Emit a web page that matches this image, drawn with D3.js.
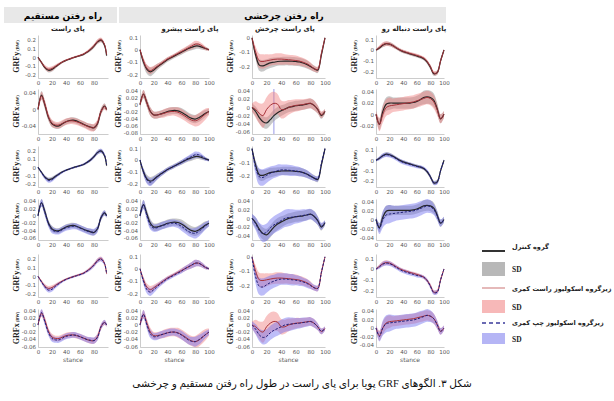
<!DOCTYPE html>
<html>
<head>
<meta charset="utf-8">
<script src="https://cdnjs.cloudflare.com/ajax/libs/d3/7.8.5/d3.min.js"></script>
<style>
body{margin:0;background:#fff;}
svg{display:block;}
.tick text{font-family:"DejaVu Sans",sans-serif;font-size:5.5px;fill:#555;}
.axis path{stroke:#aaa;stroke-width:0.6;}
.fa{font-family:"DejaVu Sans",sans-serif;}
</style>
</head>
<body>
<svg id="fig" width="614" height="401"></svg>
<script>
// stance (% of stance phase) - straight walking trials end a bit earlier
var stance = [0,5,10,15,20,25,30,35,40,45,50,55,60,65,70,75,80,85,90,95,100];
var stanceStraight = [0,5,10,15,20,25,30,35,40,45,50,55,60,65,70,75,80,85,90,95,98];

var colTitles = ["پای راست","پای راست پیشرو","پای راست چرخش","پای راست دنباله رو"];
var xTicksStraight = [0,20,40,60,80];
var xTicks = [0,20,40,60,80,100];

// GRFy means, one array per column (straight, leading, turning, trailing)
var ctrlY = [
  [0,-0.06,-0.12,-0.15,-0.14,-0.11,-0.08,-0.055,-0.035,-0.02,-0.005,0.008,0.02,0.035,0.06,0.09,0.13,0.18,0.2,0.14,0.02],
  [0,-0.1,-0.16,-0.18,-0.165,-0.14,-0.12,-0.1,-0.08,-0.065,-0.05,-0.035,-0.02,-0.005,0.01,0.02,0.03,0.03,0.02,0.01,0],
  [0,-0.12,-0.19,-0.195,-0.185,-0.175,-0.17,-0.165,-0.163,-0.162,-0.162,-0.163,-0.165,-0.168,-0.175,-0.185,-0.2,-0.215,-0.225,-0.12,0],
  [0,0.02,0.045,0.06,0.055,0.04,0.02,0,-0.015,-0.025,-0.035,-0.045,-0.055,-0.065,-0.08,-0.11,-0.16,-0.22,-0.21,-0.1,0]
];
var rightY = [
  [0,-0.06,-0.115,-0.14,-0.13,-0.105,-0.078,-0.053,-0.033,-0.018,-0.004,0.009,0.022,0.038,0.063,0.094,0.135,0.185,0.205,0.15,0.03],
  [0,-0.09,-0.15,-0.17,-0.155,-0.135,-0.115,-0.095,-0.075,-0.06,-0.045,-0.03,-0.015,0,0.015,0.03,0.045,0.045,0.03,0.01,0],
  [0,-0.1,-0.16,-0.165,-0.16,-0.155,-0.15,-0.148,-0.148,-0.15,-0.152,-0.155,-0.158,-0.162,-0.17,-0.18,-0.195,-0.215,-0.22,-0.11,0],
  [0,0.025,0.05,0.06,0.055,0.04,0.02,0.002,-0.012,-0.022,-0.032,-0.04,-0.05,-0.06,-0.075,-0.105,-0.155,-0.215,-0.21,-0.1,0]
];
var leftY = [
  [0,-0.065,-0.125,-0.16,-0.15,-0.115,-0.085,-0.058,-0.036,-0.02,-0.006,0.007,0.02,0.035,0.06,0.09,0.13,0.18,0.2,0.15,0.03],
  [0,-0.1,-0.17,-0.19,-0.17,-0.145,-0.12,-0.1,-0.08,-0.065,-0.05,-0.035,-0.02,0,0.015,0.03,0.045,0.045,0.03,0.01,0],
  [0,-0.14,-0.205,-0.21,-0.195,-0.18,-0.17,-0.16,-0.155,-0.155,-0.157,-0.16,-0.163,-0.168,-0.175,-0.185,-0.2,-0.215,-0.22,-0.11,0],
  [0,0.02,0.045,0.055,0.05,0.035,0.015,-0.005,-0.02,-0.03,-0.04,-0.05,-0.06,-0.065,-0.075,-0.105,-0.16,-0.22,-0.215,-0.1,0]
];
// GRFy standard deviations
var ctrlYsd = [
  [0.01,0.015,0.02,0.025,0.025,0.02,0.015,0.012,0.01,0.01,0.01,0.01,0.01,0.012,0.015,0.018,0.02,0.025,0.025,0.02,0.015],
  [0.01,0.03,0.035,0.035,0.03,0.025,0.02,0.02,0.018,0.018,0.018,0.018,0.02,0.02,0.022,0.025,0.025,0.022,0.02,0.015,0.01],
  [0.01,0.03,0.04,0.04,0.035,0.035,0.033,0.03,0.03,0.03,0.03,0.03,0.03,0.03,0.03,0.028,0.025,0.022,0.02,0.02,0.01],
  [0.01,0.015,0.02,0.02,0.02,0.018,0.015,0.015,0.015,0.015,0.015,0.015,0.015,0.015,0.015,0.018,0.02,0.02,0.02,0.018,0.01]
];
var rightYsd = [
  [0.01,0.018,0.025,0.028,0.028,0.022,0.018,0.014,0.012,0.012,0.012,0.012,0.012,0.014,0.016,0.02,0.022,0.026,0.026,0.022,0.015],
  [0.01,0.025,0.03,0.03,0.025,0.02,0.018,0.015,0.015,0.015,0.015,0.015,0.018,0.02,0.022,0.025,0.028,0.025,0.02,0.015,0.01],
  [0.01,0.04,0.05,0.05,0.045,0.04,0.04,0.04,0.04,0.035,0.035,0.035,0.035,0.03,0.03,0.028,0.025,0.02,0.02,0.02,0.01],
  [0.01,0.018,0.022,0.022,0.02,0.018,0.016,0.015,0.015,0.015,0.015,0.015,0.015,0.015,0.016,0.018,0.02,0.02,0.02,0.018,0.01]
];
var leftYsd = [
  [0.01,0.018,0.025,0.028,0.026,0.022,0.018,0.014,0.012,0.012,0.012,0.012,0.012,0.014,0.016,0.02,0.022,0.026,0.026,0.022,0.015],
  [0.01,0.028,0.032,0.032,0.028,0.022,0.02,0.018,0.016,0.016,0.016,0.016,0.018,0.02,0.022,0.025,0.028,0.025,0.02,0.015,0.01],
  [0.01,0.05,0.06,0.06,0.055,0.05,0.045,0.045,0.04,0.04,0.04,0.04,0.035,0.035,0.03,0.03,0.025,0.02,0.02,0.02,0.01],
  [0.01,0.018,0.022,0.022,0.022,0.02,0.02,0.02,0.02,0.02,0.02,0.018,0.018,0.016,0.016,0.018,0.02,0.02,0.02,0.018,0.01]
];

// GRFx means
var ctrlX = [
  [0,0.035,0.01,-0.02,-0.035,-0.04,-0.04,-0.035,-0.03,-0.027,-0.026,-0.028,-0.032,-0.036,-0.04,-0.043,-0.045,-0.035,-0.005,0.008,0],
  [0,0.03,0.005,-0.02,-0.03,-0.03,-0.027,-0.024,-0.02,-0.018,-0.017,-0.018,-0.022,-0.028,-0.035,-0.04,-0.042,-0.038,-0.032,-0.025,-0.02],
  [0,-0.01,-0.025,-0.035,-0.038,-0.03,-0.02,-0.013,-0.008,-0.004,0,0.002,0.004,0.005,0.006,0.008,0.01,0.005,-0.005,-0.02,-0.01],
  [0,-0.018,0.005,0.018,0.02,0.02,0.02,0.02,0.02,0.02,0.02,0.021,0.023,0.026,0.03,0.031,0.03,0.025,0.01,-0.008,0]
];
var rightX = [
  [0,0.033,0.012,-0.018,-0.034,-0.038,-0.038,-0.034,-0.03,-0.028,-0.028,-0.03,-0.033,-0.037,-0.041,-0.044,-0.044,-0.033,-0.005,0.007,0],
  [0,0.03,0.005,-0.02,-0.03,-0.03,-0.028,-0.025,-0.022,-0.02,-0.02,-0.022,-0.027,-0.033,-0.04,-0.045,-0.047,-0.043,-0.035,-0.027,-0.02],
  [0,-0.005,-0.015,-0.02,-0.005,0.005,0.01,0.008,-0.005,-0.005,0,0.003,0.005,0.006,0.007,0.009,0.01,0.005,-0.005,-0.018,-0.01],
  [0,-0.018,0,0.012,0.015,0.016,0.017,0.018,0.019,0.02,0.021,0.022,0.024,0.026,0.028,0.03,0.028,0.022,0.008,-0.008,0]
];
var leftX = [
  [0,0.035,0.008,-0.022,-0.038,-0.042,-0.042,-0.037,-0.032,-0.03,-0.028,-0.029,-0.033,-0.037,-0.041,-0.043,-0.044,-0.035,-0.005,0.008,0],
  [0,0.03,0,-0.025,-0.033,-0.032,-0.028,-0.025,-0.022,-0.02,-0.02,-0.023,-0.028,-0.035,-0.042,-0.046,-0.047,-0.042,-0.035,-0.027,-0.02],
  [0,-0.012,-0.028,-0.035,-0.032,-0.022,-0.015,-0.01,-0.005,0,0.002,0.003,0.004,0.005,0.007,0.008,0.01,0.005,-0.005,-0.018,-0.01],
  [0,-0.02,0,0.01,0.012,0.013,0.014,0.015,0.016,0.017,0.018,0.019,0.021,0.024,0.027,0.03,0.028,0.022,0.008,-0.008,0]
];
// GRFx standard deviations
var ctrlXsd = [
  [0.005,0.01,0.01,0.008,0.008,0.007,0.007,0.007,0.007,0.007,0.007,0.007,0.007,0.007,0.007,0.008,0.008,0.008,0.008,0.007,0.005],
  [0.008,0.012,0.012,0.012,0.01,0.01,0.01,0.01,0.01,0.01,0.01,0.01,0.012,0.012,0.012,0.012,0.012,0.012,0.012,0.01,0.008],
  [0.01,0.012,0.014,0.014,0.014,0.014,0.014,0.014,0.013,0.012,0.012,0.012,0.012,0.012,0.012,0.012,0.012,0.012,0.01,0.008,0.006],
  [0.006,0.01,0.012,0.012,0.012,0.01,0.01,0.01,0.01,0.01,0.01,0.01,0.01,0.01,0.012,0.012,0.012,0.012,0.01,0.008,0.006]
];
var rightXsd = [
  [0.005,0.01,0.01,0.009,0.009,0.008,0.008,0.008,0.008,0.008,0.008,0.008,0.008,0.008,0.008,0.009,0.009,0.009,0.008,0.007,0.005],
  [0.008,0.012,0.012,0.012,0.01,0.01,0.01,0.012,0.012,0.012,0.012,0.014,0.014,0.014,0.014,0.014,0.016,0.018,0.018,0.016,0.01],
  [0.01,0.02,0.025,0.03,0.03,0.03,0.028,0.025,0.022,0.02,0.018,0.016,0.015,0.014,0.013,0.012,0.012,0.012,0.01,0.008,0.006],
  [0.006,0.012,0.015,0.015,0.015,0.012,0.012,0.012,0.012,0.012,0.012,0.012,0.012,0.012,0.012,0.012,0.012,0.012,0.01,0.008,0.006]
];
var leftXsd = [
  [0.005,0.01,0.01,0.009,0.009,0.008,0.008,0.008,0.008,0.008,0.008,0.008,0.008,0.008,0.008,0.009,0.009,0.009,0.008,0.007,0.005],
  [0.008,0.012,0.012,0.012,0.01,0.01,0.01,0.01,0.01,0.01,0.01,0.01,0.012,0.012,0.012,0.012,0.014,0.014,0.012,0.01,0.008],
  [0.01,0.015,0.018,0.02,0.02,0.02,0.02,0.02,0.02,0.02,0.02,0.018,0.016,0.015,0.014,0.013,0.012,0.012,0.01,0.008,0.006],
  [0.006,0.012,0.018,0.02,0.02,0.018,0.016,0.016,0.016,0.016,0.016,0.016,0.016,0.016,0.015,0.015,0.014,0.012,0.01,0.008,0.006]
];

// y tick labels, row by row (GRFy rows share ticks)
var ticksGrfY = [[0.2,0.1,0,-0.1,-0.2],[0.1,0,-0.1,-0.2],[0,-0.1,-0.2],[0.1,0,-0.1,-0.2]];
var ticksGrfX2 = [[0.04,0,-0.04],[0.04,0.02,0,-0.02,-0.04,-0.06,-0.08],[0.04,0.02,0,-0.02,-0.04,-0.06],[0.04,0.02,0,-0.02]];
var ticksGrfX4 = [[0.04,0.02,0,-0.02,-0.04,-0.06],[0.04,0.02,0,-0.02,-0.04,-0.06],[0.04,0.02,0,-0.02,-0.04],[0.04,0.02,0,-0.02,-0.04]];
var ticksGrfX6 = [[0.04,0.02,0,-0.02,-0.04,-0.06],[0.04,0.02,0,-0.02,-0.04,-0.06],[0.04,0.02,0,-0.02,-0.04,-0.06],[0.04,0.02,0,-0.02,-0.04]];
var markerStance = 30; // vertical marker in turning GRFx panel

// ---- layout ----
var svg = d3.select('#fig');
var colX = [[38,108],[140,209],[252,325],[376,444]];
var rowY = [[35,78],[89,134],[146,187],[199,240],[254,297],[309,347]];
var domY = [[-0.24,0.26],[-0.23,0.12],[-0.28,0.02],[-0.26,0.14]];
var domains = [
  domY,
  [[-0.06,0.05],[-0.085,0.045],[-0.065,0.045],[-0.035,0.045]],
  domY,
  [[-0.065,0.045],[-0.065,0.045],[-0.05,0.045],[-0.045,0.045]],
  domY,
  [[-0.062,0.045],[-0.062,0.045],[-0.062,0.045],[-0.045,0.045]]
];
var yTicks = [ticksGrfY, ticksGrfX2, ticksGrfY, ticksGrfX4, ticksGrfY, ticksGrfX6];
var rowGroups = [["ctrl","right"],["ctrl","left"],["right","left"]];

var series = {
  y: {ctrl:[ctrlY,ctrlYsd], right:[rightY,rightYsd], left:[leftY,leftYsd]},
  x: {ctrl:[ctrlX,ctrlXsd], right:[rightX,rightXsd], left:[leftX,leftXsd]}
};
var style = {
  ctrl:  {band:'#9a9a9a', bandOp:0.55, line:'#262626', w:1.2, dash:null},
  right: {band:'#f07c7c', bandOp:0.45, line:'#a8323a', w:1.0, dash:null},
  left:  {band:'#6c6cf0', bandOp:0.45, line:'#20207a', w:1.0, dash:'2.5,1.5'}
};

function fmt(d){ return d === 0 ? '0' : String(+d.toFixed(2)); }

// header bars
svg.append('rect').attr('x',4).attr('y',7).attr('width',113).attr('height',16).attr('fill','#e8e8e8');
svg.append('rect').attr('x',119).attr('y',7).attr('width',327).attr('height',16).attr('fill','#e8e8e8');
svg.append('text').attr('class','fa').attr('x',63).attr('y',19).attr('direction','rtl')
  .attr('text-anchor','middle').attr('font-size',9).attr('font-weight','bold').text('راه رفتن مستقیم');
svg.append('text').attr('class','fa').attr('x',284).attr('y',19).attr('direction','rtl')
  .attr('text-anchor','middle').attr('font-size',9).attr('font-weight','bold').text('راه رفتن چرخشی');
var titleX = [68,190,285,414];
colTitles.forEach(function(t,i){
  svg.append('text').attr('class','fa').attr('x',titleX[i]).attr('y',31).attr('direction','rtl')
    .attr('text-anchor','middle').attr('font-size',6.8).attr('font-weight','bold').attr('fill','#222').text(t);
});

function panel(r, c){
  var comp = r % 2 === 0 ? 'y' : 'x';
  var groups = rowGroups[Math.floor(r/2)];
  var xs = c === 0 ? stanceStraight : stance;
  var x = d3.scaleLinear().domain([0,100]).range(colX[c]);
  var y = d3.scaleLinear().domain(domains[r][c]).range([rowY[r][1], rowY[r][0]]);
  var g = svg.append('g');

  g.append('g').attr('class','axis').attr('transform','translate(0,'+rowY[r][1]+')')
    .call(d3.axisBottom(x).tickValues(c === 0 ? xTicksStraight : xTicks).tickSize(0).tickPadding(3));
  g.append('g').attr('class','axis').attr('transform','translate('+colX[c][0]+',0)')
    .call(d3.axisLeft(y).tickValues(yTicks[r][c]).tickFormat(fmt).tickSize(0).tickPadding(2));

  if (r === 1 && c === 2) {
    g.append('line').attr('x1',x(markerStance)).attr('x2',x(markerStance))
      .attr('y1',rowY[r][0]).attr('y2',rowY[r][1]).attr('stroke','#9a9ae6').attr('stroke-width',1);
  }

  groups.forEach(function(k){
    var m = series[comp][k][0][c], sd = series[comp][k][1][c];
    var area = d3.area().curve(d3.curveCatmullRom)
      .x(function(d,i){ return x(xs[i]); })
      .y0(function(d,i){ return y(m[i]-sd[i]); })
      .y1(function(d,i){ return y(m[i]+sd[i]); });
    g.append('path').datum(m).attr('d',area).attr('fill',style[k].band).attr('fill-opacity',style[k].bandOp);
  });
  groups.forEach(function(k){
    var m = series[comp][k][0][c];
    var line = d3.line().curve(d3.curveCatmullRom)
      .x(function(d,i){ return x(xs[i]); })
      .y(function(d){ return y(d); });
    g.append('path').datum(m).attr('d',line).attr('fill','none')
      .attr('stroke',style[k].line).attr('stroke-width',style[k].w)
      .attr('stroke-dasharray',style[k].dash);
  });

  // y label
  var ly = g.append('text').attr('transform','translate('+(colX[c][0]-19)+','+((rowY[r][0]+rowY[r][1])/2)+') rotate(-90)')
    .attr('text-anchor','middle').attr('font-family','Liberation Serif, serif').attr('font-weight','bold').attr('fill','#222');
  ly.append('tspan').attr('font-size',8).text('GRF'+comp);
  ly.append('tspan').attr('font-size',4.5).attr('dx',1).text('(BW)');

  if (r === 5) {
    g.append('text').attr('x',(colX[c][0]+colX[c][1])/2).attr('y',rowY[r][1]+15)
      .attr('text-anchor','middle').attr('font-family','DejaVu Sans, sans-serif')
      .attr('font-size',6).attr('fill','#555').text('stance');
  }
}

for (var r = 0; r < 6; r++) for (var c = 0; c < 4; c++) panel(r, c);

// legend
var lg = svg.append('g');
lg.append('line').attr('x1',482).attr('x2',505).attr('y1',251).attr('y2',251).attr('stroke','#333').attr('stroke-width',2);
lg.append('rect').attr('x',482).attr('y',262).attr('width',23).attr('height',14).attr('fill','#b8b8b8');
lg.append('line').attr('x1',482).attr('x2',505).attr('y1',288).attr('y2',288).attr('stroke','#d48a8a').attr('stroke-width',1.2);
lg.append('rect').attr('x',482).attr('y',300).attr('width',23).attr('height',13).attr('fill','#f7b8b8');
lg.append('line').attr('x1',482).attr('x2',505).attr('y1',323).attr('y2',323).attr('stroke','#3a3a9a').attr('stroke-width',1.5).attr('stroke-dasharray','4,3');
lg.append('rect').attr('x',482).attr('y',333).attr('width',23).attr('height',11).attr('fill','#b5b5f5');

var legTexts = [['گروه کنترل',249],['زیرگروه اسکولیوز راست کمری',291],['زیرگروه اسکولیوز چپ کمری',325]];
legTexts.forEach(function(t){
  lg.append('text').attr('class','fa').attr('x',512).attr('y',t[1]).attr('direction','rtl')
    .attr('text-anchor','end').attr('font-size',6.5).attr('font-weight','bold').attr('fill','#222').text(t[0]);
});
[272,310,342].forEach(function(yy){
  lg.append('text').attr('x',512).attr('y',yy).attr('font-family','Liberation Serif, serif')
    .attr('font-size',7.5).attr('font-weight','bold').attr('fill','#222').text('SD');
});

// caption
svg.append('text').attr('x',302).attr('y',387).attr('direction','rtl').attr('text-anchor','middle')
  .attr('font-family','Liberation Serif, DejaVu Sans, serif').attr('font-size',10.5).attr('fill','#111')
  .text('شکل ۳. الگوهای GRF پویا برای پای راست در طول راه رفتن مستقیم و چرخشی');
</script>
</body>
</html>
